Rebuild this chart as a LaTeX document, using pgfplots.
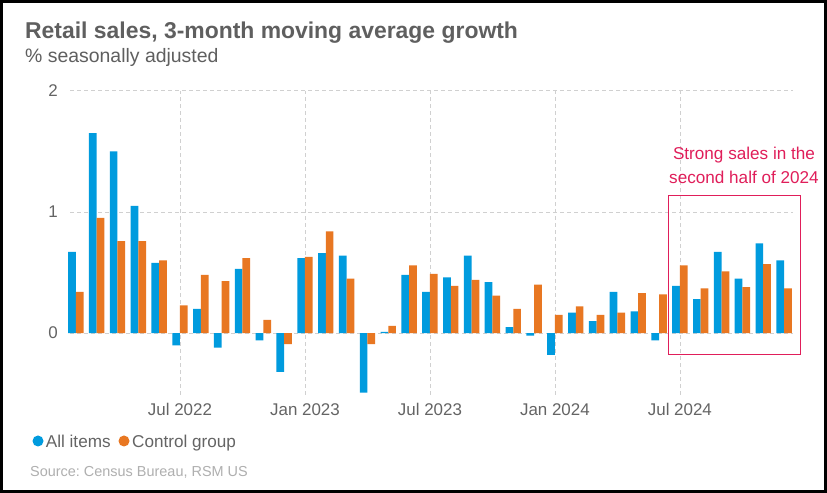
\documentclass[border=0pt]{standalone}
\usepackage{pgfplots}
\pgfplotsset{compat=1.18}
\usepackage{fontspec}
\setmainfont{Liberation Sans}
\frenchspacing
\definecolor{allblue}{RGB}{0,155,222}
\definecolor{ctrlorange}{RGB}{232,119,34}
\definecolor{annot}{RGB}{224,30,90}
\definecolor{titlegray}{RGB}{95,95,95}
\definecolor{tickgray}{RGB}{100,100,100}
\definecolor{srcgray}{RGB}{175,175,175}
\definecolor{gridgray}{RGB}{208,208,208}
\begin{document}
\begin{tikzpicture}
\useasboundingbox (0,0) rectangle (827bp,493bp);
\fill[white] (0,0) rectangle (827bp,493bp);
\begin{axis}[
 at={(70bp,98bp)}, anchor=south west, scale only axis,
 width=723bp, height=304.3bp,
 xmin=-0.28, xmax=34.43, ymin=-0.51, ymax=2,
 ybar=0pt, bar width=7.7bp,
 axis line style={draw=none}, major tick length=0pt,
 xtick={5,11,17,23,29},
 xticklabels={Jul 2022,Jan 2023,Jul 2023,Jan 2024,Jul 2024},
 ytick={0,1,2},
 grid=major,
 major grid style={gridgray, dash pattern=on 4bp off 3bp, line width=0.8bp},
 tick label style={font=\fontsize{17}{20}\selectfont, text=tickgray},
 /pgf/number format/assume math mode=true,
 yticklabel style={anchor=east, inner sep=0pt, xshift=-12bp},
 xticklabel style={anchor=north, inner sep=0pt, yshift=-8bp},
 clip=false,
]
\addplot[fill=allblue, draw=none] coordinates {
(0,0.67) (1,1.65) (2,1.50) (3,1.05) (4,0.58) (5,-0.10) (6,0.20) (7,-0.12)
(8,0.53) (9,-0.06) (10,-0.32) (11,0.62) (12,0.66) (13,0.64) (14,-0.49)
(15,0.01) (16,0.48) (17,0.34) (18,0.46) (19,0.64) (20,0.42) (21,0.05)
(22,-0.02) (23,-0.18) (24,0.17) (25,0.10) (26,0.34) (27,0.18) (28,-0.06)
(29,0.39) (30,0.28) (31,0.67) (32,0.45) (33,0.74) (34,0.60)};
\addplot[fill=ctrlorange, draw=none] coordinates {
(0,0.34) (1,0.95) (2,0.76) (3,0.76) (4,0.60) (5,0.23) (6,0.48) (7,0.43)
(8,0.62) (9,0.11) (10,-0.09) (11,0.63) (12,0.84) (13,0.45) (14,-0.09)
(15,0.06) (16,0.56) (17,0.49) (18,0.39) (19,0.44) (20,0.31) (21,0.20)
(22,0.40) (23,0.15) (24,0.22) (25,0.15) (26,0.17) (27,0.33) (28,0.32)
(29,0.56) (30,0.37) (31,0.51) (32,0.38) (33,0.57) (34,0.37)};
\draw[annot, line width=1bp] (axis cs:28.44,1.138) rectangle (axis cs:34.78,-0.173);
\end{axis}
\node[anchor=base west, inner sep=0pt, text=titlegray, font=\fontsize{23}{28}\selectfont\bfseries] at (25bp,454bp) {Retail sales, 3-month moving average growth};
\node[anchor=base west, inner sep=0pt, text=titlegray, font=\fontsize{19.5}{24}\selectfont] at (25bp,430bp) {\% seasonally adjusted};
\node[anchor=base, inner sep=0pt, text=annot, font=\fontsize{17.2}{20}\selectfont] at (744bp,333bp) {Strong sales in the};
\node[anchor=base, inner sep=0pt, text=annot, font=\fontsize{17.2}{20}\selectfont] at (744bp,309.5bp) {second half of 2024};
\fill[allblue] (38bp,52bp) circle (5.5bp);
\node[anchor=base west, inner sep=0pt, text=tickgray, font=\fontsize{17.2}{20}\selectfont] at (45.7bp,45bp) {All items};
\fill[ctrlorange] (124bp,52bp) circle (5.5bp);
\node[anchor=base west, inner sep=0pt, text=tickgray, font=\fontsize{17.2}{20}\selectfont] at (132bp,45bp) {Control group};
\node[anchor=base west, inner sep=0pt, text=srcgray, font=\fontsize{14.5}{17}\selectfont] at (30bp,17bp) {Source: Census Bureau, RSM US};
\draw[black, line width=3bp] (1.5bp,1.5bp) rectangle (825.5bp,491.5bp);
\end{tikzpicture}
\end{document}
